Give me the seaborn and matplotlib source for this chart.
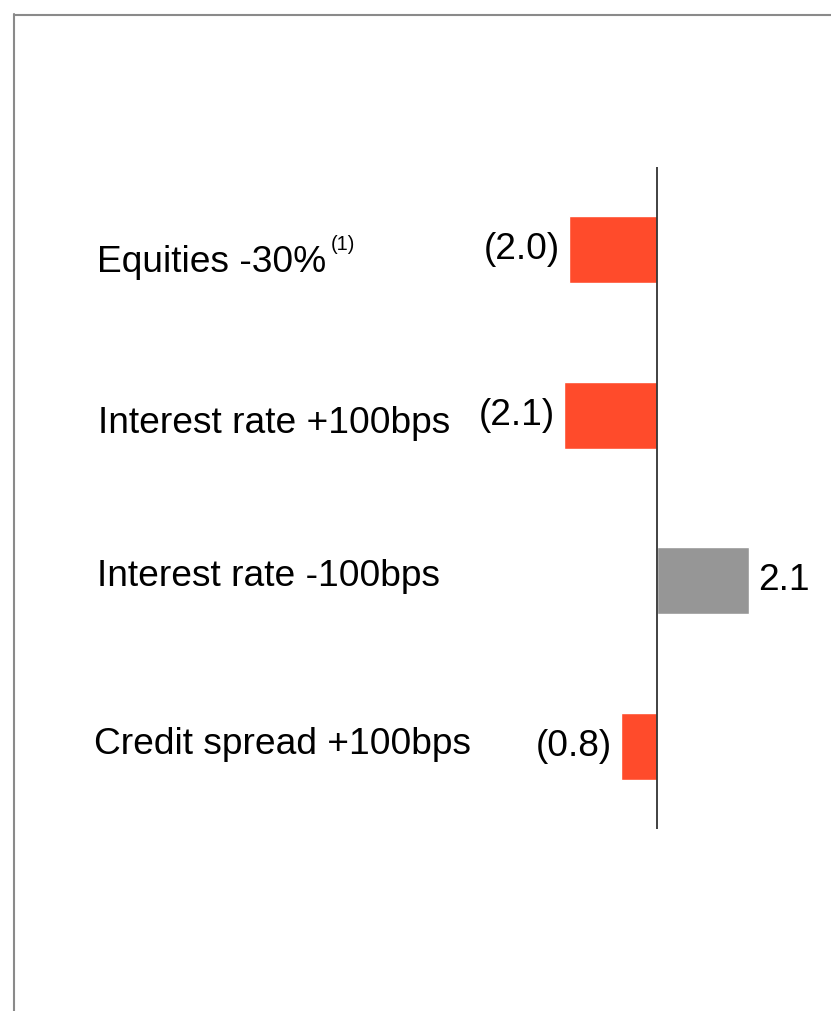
import matplotlib
matplotlib.use("Agg")
import matplotlib.pyplot as plt
import matplotlib.transforms as mtransforms
from matplotlib.lines import Line2D
import pandas as pd
import seaborn as sns

# Sensitivity scenarios and their impact
categories = ["Equities -30%", "Interest rate +100bps",
              "Interest rate -100bps", "Credit spread +100bps"]
values = [-2.0, -2.1, 2.1, -0.8]
footnote = "(1)"

sns.set_theme(style="white")
plt.rcParams["font.family"] = ["Liberation Sans", "DejaVu Sans"]

NEG_COLOR = "#FF4B2B"
POS_COLOR = "#969696"
FS = 26.7

df = pd.DataFrame({"scenario": categories, "impact": values})
palette = {c: (NEG_COLOR if v < 0 else POS_COLOR) for c, v in zip(categories, values)}

W, H, DPI = 831, 1011, 100
fig = plt.figure(figsize=(W / DPI, H / DPI), dpi=DPI)
fig.patch.set_facecolor("white")

# axes placed in pixel terms: zero line at x=656.5, plot spans y 167..829
px_per_unit = 44.0
x0 = 656.5
xmin, xmax = -3.0, 3.0
left = (x0 + xmin * px_per_unit) / W
width = (xmax - xmin) * px_per_unit / W
top_px, bot_px = 167, 829
ax = fig.add_axes([left, (H - bot_px) / H, width, (bot_px - top_px) / H])

sns.barplot(data=df, x="impact", y="scenario", hue="scenario", palette=palette,
            orient="h", width=0.405, legend=False, ax=ax, saturation=1)

ax.set_xlim(xmin, xmax)
ax.set_ylim(len(categories) - 0.5, -0.5)
ax.axvline(0, color="#333333", lw=1.3, zorder=5)
for s in ax.spines.values():
    s.set_visible(False)
ax.set_xticks([])
ax.set_yticks([])
ax.set_xlabel("")
ax.set_ylabel("")
ax.patch.set_alpha(0)

# value labels at the bar ends
for i, v in enumerate(values):
    txt = f"({abs(v):.1f})" if v < 0 else f"{v:.1f}"
    ax.annotate(txt, xy=(v, i), xytext=(-6.5 if v < 0 else 6.5, 0),
                textcoords="offset points", ha="right" if v < 0 else "left",
                va="center", fontsize=FS, color="black")

# scenario labels on the left
label_x = [97, 98, 97, 94]
label_dy = [-9, -6, 3, 1]
trans = mtransforms.blended_transform_factory(fig.transFigure, ax.transData)
label_artists = []
for i, c in enumerate(categories):
    t = ax.annotate(c, xy=(label_x[i] / W, i), xycoords=trans,
                    xytext=(0, label_dy[i]), textcoords="offset points",
                    ha="left", va="center", fontsize=FS, color="black")
    label_artists.append(t)

# footnote marker on the equities label
ax.annotate(footnote, xy=(1, 1), xycoords=label_artists[0],
            xytext=(3, 7), textcoords="offset points",
            ha="left", va="top", fontsize=14.5, color="black")

# frame lines along the top and left edges
fig.add_artist(Line2D([14 / W, 14 / W], [0, 1 - 13.5 / H],
                      transform=fig.transFigure, color="#8a8a8a", lw=1.5))
fig.add_artist(Line2D([14 / W, 1], [1 - 14.5 / H, 1 - 14.5 / H],
                      transform=fig.transFigure, color="#8a8a8a", lw=1.5))

fig.savefig("out.png", dpi=DPI, facecolor="white")
